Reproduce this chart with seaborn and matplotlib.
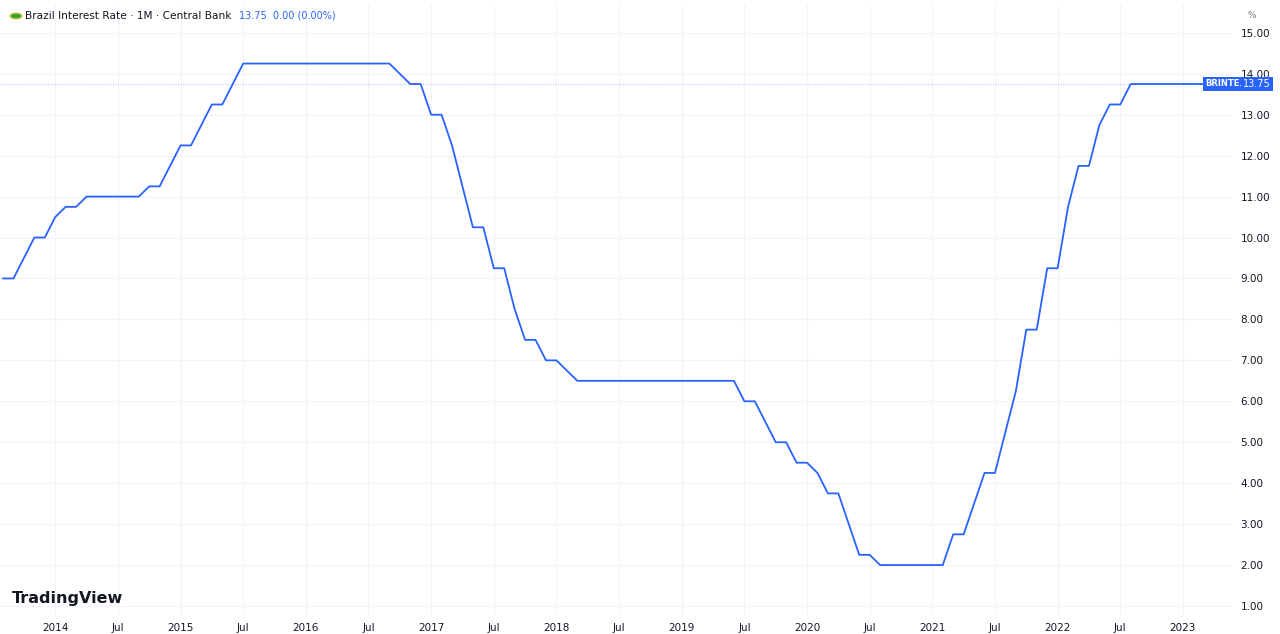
import matplotlib
matplotlib.use("Agg")
import matplotlib.pyplot as plt
import seaborn as sns
import pandas as pd
import numpy as np

# monthly values starting Aug 2013
rates = [9.0, 9.0, 9.5, 10.0, 10.0,                      # Aug-Dec 2013
         10.5, 10.75, 10.75, 11.0, 11.0, 11.0, 11.0, 11.0, 11.0, 11.25, 11.25, 11.75,  # 2014
         12.25, 12.25, 12.75, 13.25, 13.25, 13.75, 14.25, 14.25, 14.25, 14.25, 14.25, 14.25,  # 2015
         14.25, 14.25, 14.25, 14.25, 14.25, 14.25, 14.25, 14.25, 14.25, 14.0, 13.75, 13.75,  # 2016
         13.0, 13.0, 12.25, 11.25, 10.25, 10.25, 9.25, 9.25, 8.25, 7.5, 7.5, 7.0,  # 2017
         7.0, 6.75, 6.5, 6.5, 6.5, 6.5, 6.5, 6.5, 6.5, 6.5, 6.5, 6.5,  # 2018
         6.5, 6.5, 6.5, 6.5, 6.5, 6.5, 6.0, 6.0, 5.5, 5.0, 5.0, 4.5,  # 2019
         4.5, 4.25, 3.75, 3.75, 3.0, 2.25, 2.25, 2.0, 2.0, 2.0, 2.0, 2.0,  # 2020
         2.0, 2.0, 2.75, 2.75, 3.5, 4.25, 4.25, 5.25, 6.25, 7.75, 7.75, 9.25,  # 2021
         9.25, 10.75, 11.75, 11.75, 12.75, 13.25, 13.25, 13.75, 13.75, 13.75, 13.75, 13.75,  # 2022
         13.75, 13.75, 13.75, 13.75, 13.75, 13.75]  # 2023
year_labels = ["2014", "Jul", "2015", "Jul", "2016", "Jul", "2017", "Jul", "2018", "Jul",
               "2019", "Jul", "2020", "Jul", "2021", "Jul", "2022", "Jul", "2023"]
y_ticks = list(range(1, 16))

df = pd.DataFrame({"m": np.arange(len(rates)), "rate": rates})

W, H = 1280, 634
fig = plt.figure(figsize=(12.8, 6.34), dpi=100)
ax = fig.add_axes([0, 19/H, 1232/W, 610/H])
sns.lineplot(data=df, x="m", y="rate", ax=ax, color="#2962ff", linewidth=1.3)
ax.set_xlim(-0.29, 117.7)
ax.set_ylim(0.78, 15.68)
ax.yaxis.tick_right()
ax.set_yticks(y_ticks)
ax.set_yticklabels([f"{v:.2f}" for v in y_ticks], fontsize=7.5, color="#131722")
xt = [5 + 6 * i for i in range(len(year_labels))]
ax.set_xticks(xt)
ax.set_xticklabels(year_labels, fontsize=7.5, color="#131722")
ax.tick_params(length=0, pad=6)
ax.grid(True, color="#f0f3fa", linewidth=0.8)
for s in ax.spines.values():
    s.set_visible(False)
ax.set_xlabel(""); ax.set_ylabel("")
ax.axhline(13.75, color="#2962ff", linestyle=(0, (1, 2)), linewidth=0.6, alpha=0.6)
yb = 1 - 84/H
fig.text(1205/W, yb, "BRINTE.", fontsize=6, color="white", fontweight="bold",
         va="center", ha="left",
         bbox=dict(boxstyle="square,pad=0.3", fc="#2962ff", ec="none"))
fig.text(1243/W, yb, "13.75", fontsize=7, color="white", va="center", ha="left",
         bbox=dict(boxstyle="square,pad=0.25", fc="#2962ff", ec="none"))
fig.text(25/W, 1 - 16/H, "Brazil Interest Rate · 1M · Central Bank", fontsize=7.6,
         color="#131722", va="center")
fig.text(239/W, 1 - 16/H, "13.75  0.00 (0.00%)", fontsize=7, color="#2962ff", va="center")
fig.patches.append(plt.Circle((16/W, 1 - 16/H), 0.0045, transform=fig.transFigure,
                              fc="#2aa14a", ec="#e0c020", lw=1))
fig.text(12/W, 1 - 599/H, "TradingView", fontsize=11.5, fontweight="bold",
         color="#131722", va="center")
fig.text(1247/W, 1 - 16/H, "%", fontsize=6.5, color="#787b86", va="center")
fig.savefig("out.png", dpi=100, facecolor="white")
